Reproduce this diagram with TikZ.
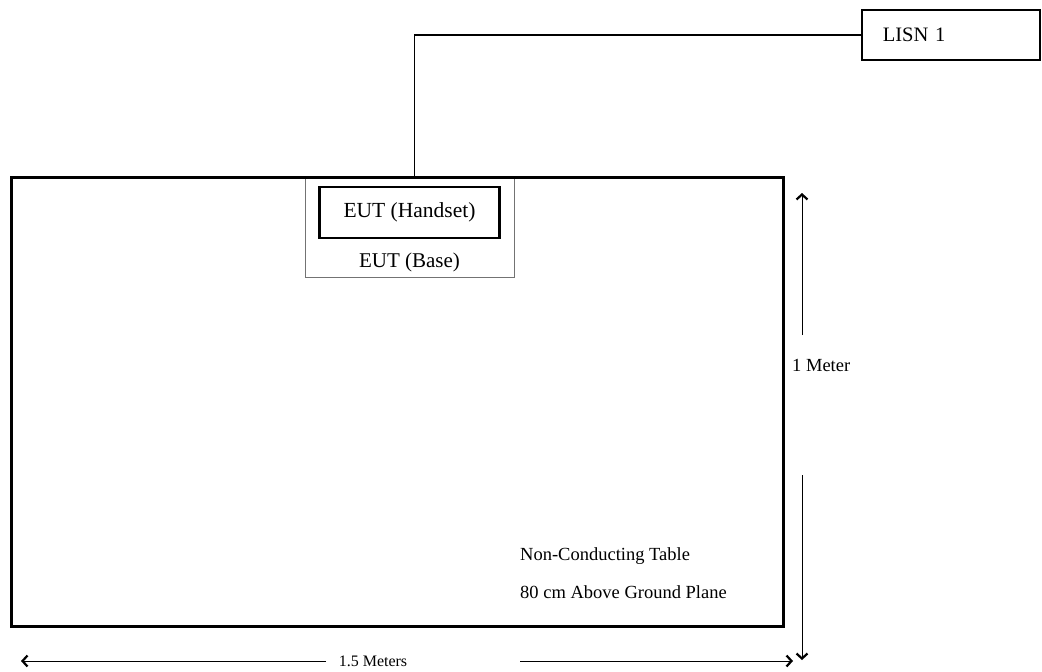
\documentclass[tikz,border=0pt]{standalone}
\usepackage{fontspec}
\setmainfont{Liberation Serif}
\usetikzlibrary{arrows.meta,positioning}

\begin{document}
\begin{tikzpicture}[x=1pt, y=-1pt, >={Straight Barb[length=5pt,width=11pt,line width=2.2pt]},
  every node/.style={font=\fontsize{18.5}{22}\selectfont, inner sep=0pt},
  boxed/.style={draw, minimum width=#1, inner sep=0pt},
  dimline/.style={->, line width=1pt},
  cable/.style={line width=1.5pt}]

  \useasboundingbox (0,0) rectangle (1042,672);

  % ===== EUT on the table =====
  \node[boxed=209, draw=black!55, line width=0.8pt, minimum height=101, anchor=north west] (base) at (305,176) {};
  \node[boxed=180, line width=2.5pt, minimum height=51, font=\fontsize{21.5}{25}\selectfont] (handset) at (409.5,212.5) {EUT (Handset)};
  \node[font=\fontsize{21}{25}\selectfont] (baselabel) at (409.5,262) {EUT (Base)};

  % Table outline
  \node[boxed=772, line width=3pt, minimum height=449, anchor=north west] (table) at (10,176) {};
  \node[anchor=west] (tabtext1) at (520,556) {Non-Conducting Table};
  \node[anchor=west] (tabtext2) at (520,592) {80 cm Above Ground Plane};

  % ===== LISN and cable =====
  \node[boxed=178, line width=1.5pt, minimum height=50, anchor=north west, font=\fontsize{20.5}{24}\selectfont,
    text width=136, align=left] (lisn) at (861,9) {LISN 1};
  \draw[cable] ([xshift=4.5pt]base.north) |- (lisn.west);

  % ===== Dimension: 1 Meter =====
  \coordinate (vtop) at (802,193);
  \coordinate (vA) at (802,335);
  \coordinate (vB) at (802,475);
  \coordinate (vbot) at (802,660);
  \node[anchor=west] (meter) at (792,365) {1 Meter};
  \draw[dimline] (vA) -- (vtop);
  \draw[dimline] (vB) -- (vbot);

  % ===== Dimension: 1.5 Meters =====
  \coordinate (hleft) at (21,661);
  \coordinate (hA) at (326,661);
  \coordinate (hB) at (520,661);
  \coordinate (hright) at (793,661);
  \node[font=\fontsize{16}{18}\selectfont] (meters) at (373,661) {1.5 Meters};
  \draw[dimline] (hA) -- (hleft);
  \draw[dimline] (hB) -- (hright);

\end{tikzpicture}
\end{document}
